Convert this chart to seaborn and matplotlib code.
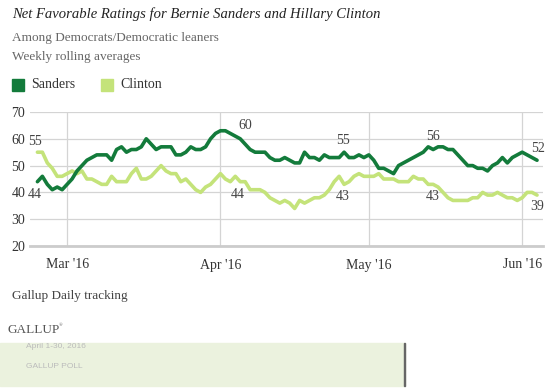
import seaborn as sns
import pandas as pd
import numpy as np
import matplotlib.pyplot as plt
import matplotlib.dates as mdates
from matplotlib.patches import Rectangle

sns.set_theme(style='white')
plt.rcParams['font.family'] = ['Liberation Serif', 'DejaVu Serif']

# daily rolling averages, Feb 24 - Jun 4 2016
dates = pd.date_range('2016-02-24', '2016-06-04', freq='D')
sanders = [44, 46, 43, 41, 42, 41, 43, 45, 48, 50, 52, 53, 54, 54, 54, 52, 56, 57, 55, 56,
           56, 57, 60, 58, 56, 57, 57, 57, 54, 54, 55, 57, 56, 56, 57, 60, 62, 63, 63, 62,
           61, 60, 58, 56, 55, 55, 55, 53, 52, 52, 53, 52, 51, 51, 55, 53, 53, 52, 54, 53,
           53, 53, 55, 53, 53, 54, 53, 54, 52, 49, 49, 48, 47, 50, 51, 52, 53, 54, 55, 57,
           56, 57, 57, 56, 56, 54, 52, 50, 50, 49, 49, 48, 50, 51, 53, 51, 53, 54, 55, 54,
           53, 52]
clinton = [55, 55, 51, 49, 46, 46, 47, 48, 47, 48, 45, 45, 44, 43, 43, 46, 44, 44, 44, 47,
           49, 45, 45, 46, 48, 50, 48, 47, 47, 44, 45, 43, 41, 40, 42, 43, 45, 47, 45, 44,
           46, 44, 44, 41, 41, 41, 40, 38, 37, 36, 37, 36, 34, 37, 36, 37, 38, 38, 39, 41,
           44, 46, 43, 44, 46, 47, 46, 46, 46, 47, 45, 45, 45, 44, 44, 44, 46, 45, 45, 43,
           43, 42, 40, 38, 37, 37, 37, 37, 38, 38, 40, 39, 39, 40, 39, 38, 38, 37, 38, 40,
           40, 39]

# point labels: (text, date, y position)
labels = [('44', '2016-02-23 12:00', 39.4), ('55', '2016-02-23 12:00', 59.0),
          ('60', '2016-04-06', 65.1), ('44', '2016-04-04 12:00', 39.4),
          ('55', '2016-04-25 18:00', 59.2), ('43', '2016-04-25 18:00', 38.4),
          ('56', '2016-05-13 22:00', 60.8), ('43', '2016-05-13 22:00', 38.4),
          ('52', '2016-06-04 04:00', 56.4), ('39', '2016-06-04', 34.7)]

dark_green = '#137b3b'
light_green = '#c4e37a'

df = pd.DataFrame({'date': list(dates) * 2,
                   'value': sanders + clinton,
                   'who': ['Sanders'] * len(dates) + ['Clinton'] * len(dates)})

fig = plt.figure(figsize=(5.54, 3.89), dpi=100)
ax = fig.add_axes([30 / 554, 1 - 246 / 389, 513 / 554, 134 / 389])

sns.lineplot(data=df, x='date', y='value', hue='who',
             palette={'Sanders': dark_green, 'Clinton': light_green},
             hue_order=['Clinton', 'Sanders'], linewidth=2.6, legend=False, ax=ax)

ax.set_xlim(pd.Timestamp('2016-02-22 12:00'), pd.Timestamp('2016-06-05 05:00'))
ax.set_ylim(20, 70)
ax.set_yticks([20, 30, 40, 50, 60, 70])
ax.set_xticks(pd.to_datetime(['2016-03-01', '2016-04-01', '2016-05-01', '2016-06-01']))
ax.xaxis.set_major_formatter(mdates.DateFormatter("%b '%y"))
ax.set_xlabel('')
ax.set_ylabel('')
ax.grid(True, color='#d4d4d4', linewidth=0.9)
for s in ['top', 'right', 'left']:
    ax.spines[s].set_visible(False)
ax.spines['bottom'].set_color('#cccccc')
ax.spines['bottom'].set_linewidth(2)
ax.tick_params(axis='both', length=0, labelsize=10, colors='#333333')
ax.tick_params(axis='y', pad=3.5)
ax.tick_params(axis='x', pad=9)

for txt, d, y in labels:
    ax.text(pd.Timestamp(d), y, txt, ha='center', va='center', fontsize=10,
            color='#444444', clip_on=False)

fig.text(12 / 554, 1 - 14 / 389, 'Net Favorable Ratings for Bernie Sanders and Hillary Clinton',
         fontsize=10.5, style='italic', color='#222222', va='center')
fig.text(12 / 554, 1 - 38 / 389, 'Among Democrats/Democratic leaners',
         fontsize=9.5, color='#666666', va='center')
fig.text(12 / 554, 1 - 57 / 389, 'Weekly rolling averages',
         fontsize=9.5, color='#666666', va='center')

# legend
fig.patches.append(Rectangle((12 / 554, 1 - 91 / 389), 12 / 554, 12 / 389,
                             transform=fig.transFigure, color=dark_green))
fig.text(31 / 554, 1 - 84 / 389, 'Sanders', fontsize=10, color='#333333', va='center')
fig.patches.append(Rectangle((101 / 554, 1 - 91 / 389), 12 / 554, 12 / 389,
                             transform=fig.transFigure, color=light_green))
fig.text(120 / 554, 1 - 84 / 389, 'Clinton', fontsize=10, color='#333333', va='center')

# footer
fig.text(12 / 554, 1 - 296 / 389, 'Gallup Daily tracking', fontsize=9.5,
         color='#444444', va='center')
fig.text(8 / 554, 1 - 330 / 389, 'GALLUP', fontsize=9.5, color='#555555', va='center')
fig.text(59 / 554, 1 - 325 / 389, '\u00ae', fontsize=3.5, color='#555555', va='center')
fig.patches.append(Rectangle((0, 1 - 386 / 389), 405 / 554, 43 / 389,
                             transform=fig.transFigure, color='#ebf2de', zorder=0))
fig.patches.append(Rectangle((404 / 554, 1 - 386 / 389), 0.8 / 554, 43 / 389,
                             transform=fig.transFigure, color='#666666', zorder=1))
fig.text(26 / 554, 1 - 346 / 389, 'April 1-30, 2016', fontsize=6, color='#bbbbbb',
         va='center', family=['Liberation Sans', 'DejaVu Sans'])
fig.text(26 / 554, 1 - 366 / 389, 'GALLUP POLL', fontsize=6, color='#bbbbbb',
         va='center', family=['Liberation Sans', 'DejaVu Sans'])

fig.savefig('out.png', dpi=100)
